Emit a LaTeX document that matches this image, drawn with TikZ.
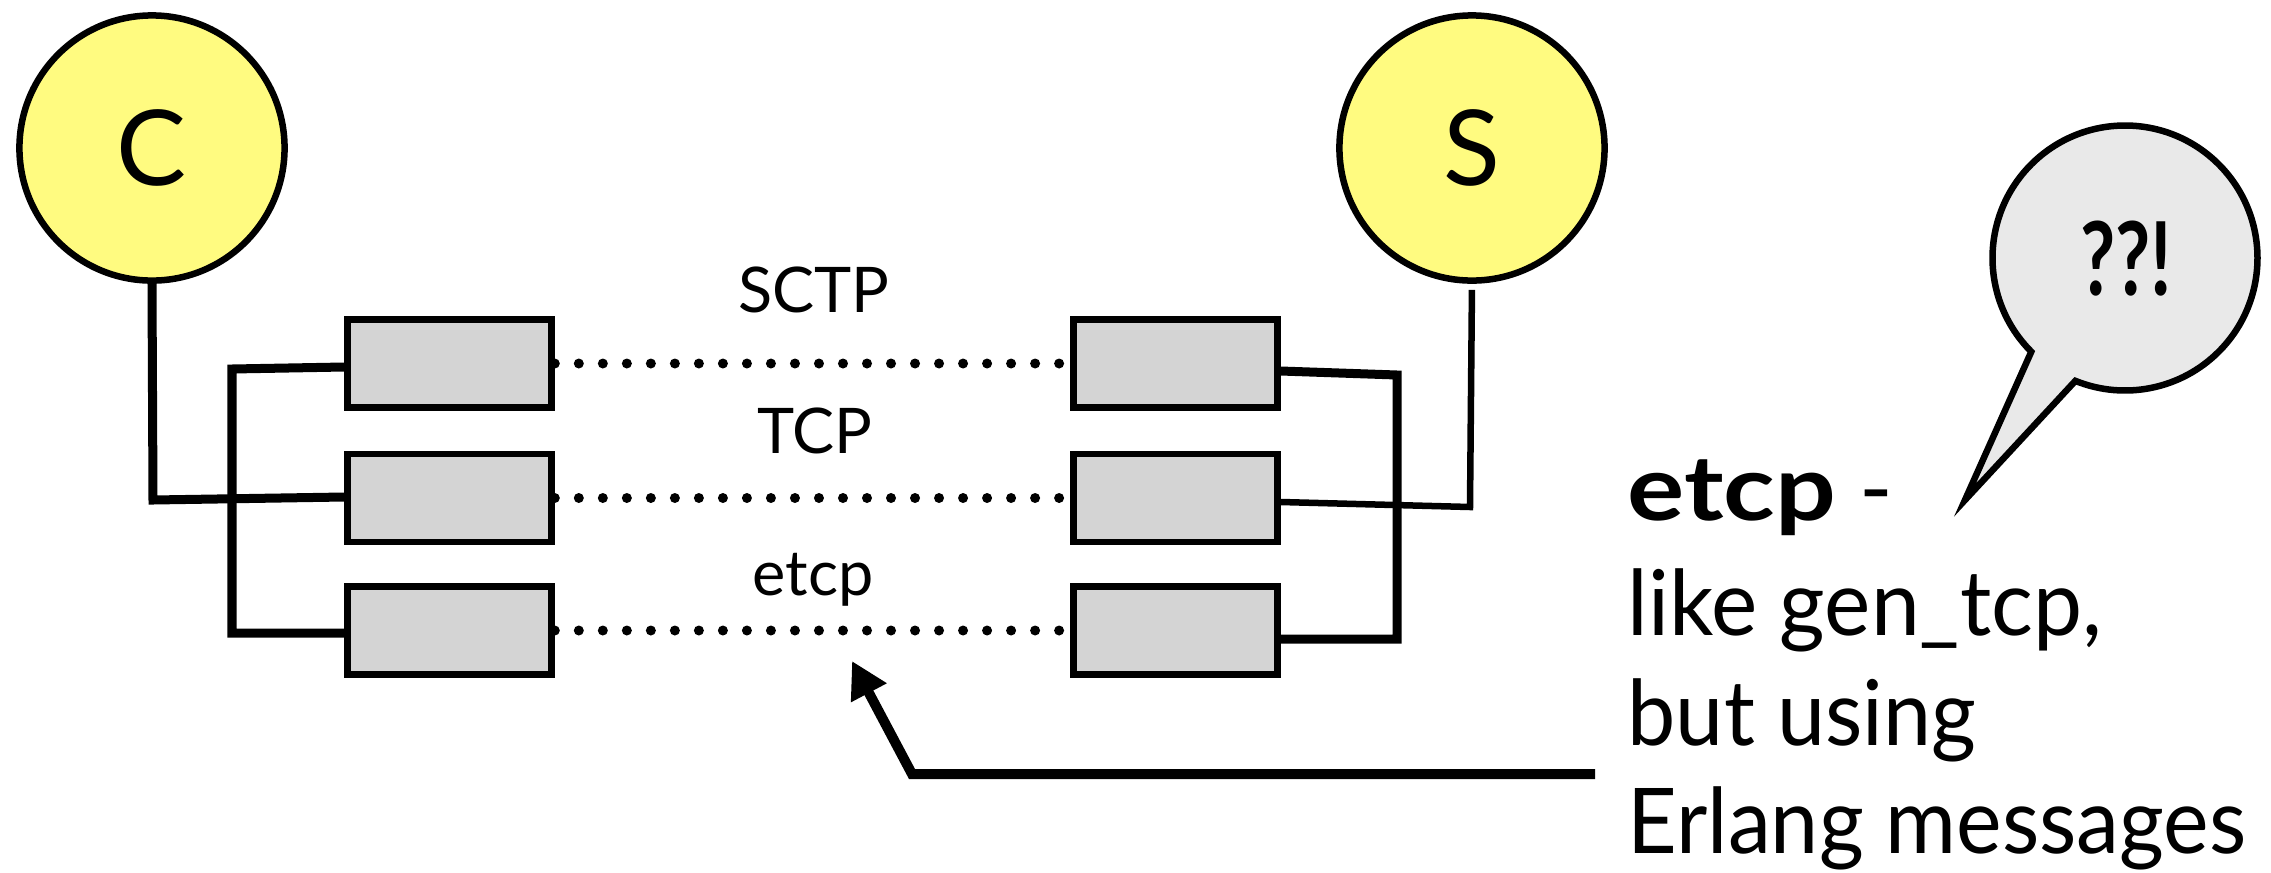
\documentclass[tikz,border=0pt]{standalone}
\usepackage{fontspec}
\setmainfont{Lato}
\usetikzlibrary{arrows.meta}
\definecolor{ballyellow}{RGB}{255,251,128}
\definecolor{boxgray}{RGB}{212,212,212}
\definecolor{bubblegray}{RGB}{233,233,233}
\begin{document}
\begin{tikzpicture}[x=0.01cm, y=-0.01cm,
  proc/.style={circle, draw=black, line width=0.065cm, fill=ballyellow, minimum size=2.65cm, inner sep=0pt, font=\fontsize{29.8}{30}\selectfont},
  sock/.style={rectangle, draw=black, line width=0.065cm, fill=boxgray, minimum width=2.04cm, minimum height=0.88cm, inner sep=0pt},
  wire/.style={line width=0.09cm, line join=miter},
  link/.style={line width=0.1cm, line cap=round, dash pattern=on 0pt off 0.24cm},
  proto/.style={font=\fontsize{17.9}{20}\selectfont, anchor=base, inner sep=0pt},
  note/.style={font=\fontsize{25.8}{31}\selectfont, anchor=base west, inner sep=0pt},
  bubble/.style={draw=black, line width=0.065cm, fill=bubblegray, line join=miter},
  pointer/.style={line width=0.1cm, line join=miter, -{Triangle[length=0.36cm, width=0.38cm]}}
]
\useasboundingbox (0,0) rectangle (2271,872);

% processes
\node[proc] (C) at (152,148) {C};
\node[proc] (S) at (1472,148) {S};

% sockets
\node[sock] (l1) at (449.5,363.5) {};
\node[sock] (l2) at (449.5,498) {};
\node[sock] (l3) at (449.5,630.5) {};
\node[sock] (r1) at (1175.5,363.5) {};
\node[sock] (r2) at (1175.5,498) {};
\node[sock] (r3) at (1175.5,630.5) {};

% wires
\draw[wire] (C.south) -- (153,500) -- (l2.west |- 0,497);
\draw[wire] (l1.west |- 0,367) -- (232,369) -- (232,633) -- (l3.west |- 0,633);
\draw[wire, line width=0.065cm, shorten <=0.06cm] (S.south) -- (1470,507) -- (r2.east |- 0,502);
\draw[wire] (r1.east |- 0,371) -- (1397,375) -- (1397,639) -- (r3.east |- 0,639);

% dotted links
\draw[link] (l1.east) -- (r1.west);
\draw[link] (l2.east) -- (r2.west);
\draw[link] (l3.east) -- (r3.west);

% protocol labels
\node[proto] (tSCTP) at (814,312) {SCTP};
\node[proto] (tTCP) at (815,453) {TCP};
\node[proto] (tetcp) at (813,595) {etcp};

% speech bubble
\coordinate (bub) at (2125,258);
\coordinate (tail) at (1965,500);
\draw[bubble] (bub) ++(135:132.5) arc[start angle=135, end angle=472, radius=132.5] -- (tail) -- cycle;
\node[font=\bfseries\fontsize{29}{30}\selectfont, anchor=base, inner sep=0pt] (q) at (2126,295) {\scalebox{0.75}[1]{??!}};

% note text
\node[note] (n1) at (1627,520) {\scalebox{1.18}[1]{\textbf{etcp}} -};
\node[note] (n2) at (1627,635) {\scalebox{0.965}[1]{like gen\_tcp,}};
\node[note] (n3) at (1627,745) {\scalebox{0.95}[1]{but using}};
\node[note] (n4) at (1627,853) {\scalebox{0.95}[1]{Erlang messages}};

% pointer arrow
\coordinate (a0) at (1595,774);
\coordinate (a1) at (912,774);
\coordinate (a2) at (852,661);
\draw[pointer] (a0) -- (a1) -- (a2);
\end{tikzpicture}
\end{document}
